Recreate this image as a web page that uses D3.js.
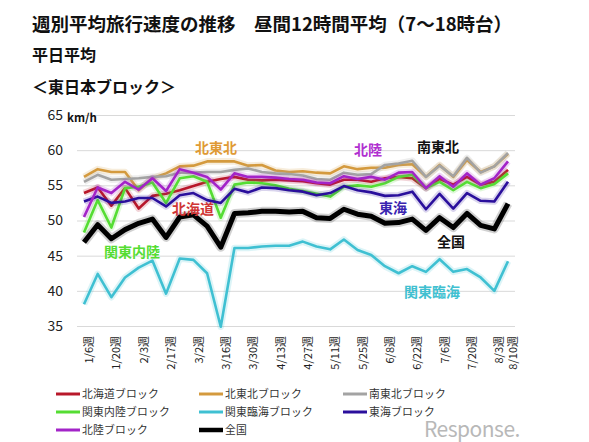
<!DOCTYPE html>
<html><head><meta charset="utf-8">
<script src="https://cdn.jsdelivr.net/npm/d3@7"></script>
<style>body{margin:0;background:#fff} text{font-family:"Noto Sans CJK JP","Noto Sans",sans-serif}</style>
</head><body><svg id="c" width="589" height="442"></svg>
<script>
const weeks = ["1/6","1/13","1/20","1/27","2/3","2/10","2/17","2/24","3/2","3/9","3/16","3/23","3/30","4/6","4/13","4/20","4/27","5/4","5/11","5/18","5/25","6/1","6/8","6/15","6/22","6/29","7/6","7/13","7/20","7/27","8/3","8/10"];
const xLabels = ["1/6","1/20","2/3","2/17","3/2","3/16","3/30","4/13","4/27","5/11","5/25","6/8","6/22","7/6","7/20","8/3","8/10"];
const yTicks = [35,40,45,50,55,60,65];
const hokkaido = [53.9,54.7,52.1,54.6,51.7,53.5,53.8,54.3,54.9,55.5,55.9,56.2,55.8,55.7,55.8,55.7,55.6,55.3,55.1,55.8,55.8,55.5,56.0,56.2,56.0,54.6,55.9,55.1,56.2,55.1,55.5,57.2];
const kitaTohoku = [56.2,57.3,56.9,56.9,54.3,56.0,56.7,57.7,57.8,58.4,58.4,58.4,57.8,57.9,57.1,56.9,57.0,56.8,56.7,57.7,57.3,57.5,57.5,57.9,58.0,56.2,57.9,56.2,58.6,56.9,57.7,59.5];
const minamiTohoku = [55.5,56.5,55.8,55.9,56.0,56.2,56.3,56.8,56.8,56.9,56.9,57.2,57.4,56.9,56.7,56.6,56.4,55.9,55.8,56.8,56.5,56.6,57.9,58.1,58.5,56.2,57.8,56.3,58.9,56.8,57.7,59.6];
const kantoNairiku = [48.3,52.9,49.0,54.6,54.8,55.4,52.5,56.0,56.3,55.5,50.4,55.1,55.4,55.3,55.0,54.5,54.2,53.8,53.4,54.8,55.0,54.8,55.3,56.2,56.5,54.6,55.5,54.3,55.5,54.6,55.2,56.7];
const kantoRinkai = [38.1,42.4,39.1,41.9,43.3,44.3,39.6,44.6,44.4,42.5,34.9,46.1,46.1,46.3,46.4,46.4,47.0,46.3,45.9,47.3,45.8,45.1,43.5,42.5,43.5,42.7,44.5,42.7,43.1,41.9,40.0,44.2];
const tokai = [52.7,53.4,52.5,52.7,53.2,53.2,52.0,53.6,53.9,52.9,52.5,54.5,54.0,54.7,54.6,54.3,54.1,53.6,53.9,54.9,54.3,54.0,53.5,53.6,54.1,51.6,53.8,51.7,53.9,52.8,52.7,55.5];
const hokuriku = [50.5,54.7,53.9,55.5,54.4,56.0,54.2,57.3,56.8,56.2,54.4,56.7,56.2,56.2,56.1,55.9,55.8,55.4,55.3,56.3,55.9,56.2,55.8,56.8,56.9,54.6,56.3,54.8,56.7,55.1,56.0,58.4];
const zenkoku = [46.9,49.4,47.4,48.7,49.6,50.2,47.6,50.5,50.8,49.2,46.2,51.0,51.1,51.3,51.3,51.2,51.3,50.4,50.3,51.6,50.9,50.6,49.6,49.7,50.2,48.6,50.4,49.0,51.0,49.3,48.8,52.4];

const seriesNames = ["北海道ブロック","北東北ブロック","南東北ブロック","関東内陸ブロック","関東臨海ブロック","東海ブロック","北陸ブロック","全国"];
const seriesValues = [hokkaido,kitaTohoku,minamiTohoku,kantoNairiku,kantoRinkai,tokai,hokuriku,zenkoku];
const seriesColors = ["#b8182a","#d49a3e","#a3a3a3","#55dd33","#3fc0d2","#2a0f9c","#a324c8","#000000"];

const svg = d3.select("#c");
svg.append("rect").attr("width",589).attr("height",442).attr("fill","#fff");

const x = d3.scalePoint().domain(weeks).range([84,508]);
const y = d3.scaleLinear().domain([35,65]).range([326,115]);

// titles
svg.append("text").attr("x",32).attr("y",31).attr("font-size",18.5).attr("font-weight","bold").attr("fill","#111")
  .text("週別平均旅行速度の推移　昼間12時間平均（7〜18時台）");
svg.append("text").attr("x",32).attr("y",61).attr("font-size",16).attr("font-weight","bold").attr("fill","#111").text("平日平均");
svg.append("text").attr("x",32).attr("y",93).attr("font-size",16).attr("font-weight","bold").attr("fill","#111").text("＜東日本ブロック＞");

// y axis with gridlines
const ya = svg.append("g").attr("transform","translate(77,0)")
  .call(d3.axisLeft(y).tickValues(yTicks).tickSize(-438).tickPadding(14));
ya.select(".domain").remove();
ya.selectAll(".tick line").attr("stroke","#d9d9d9");
ya.selectAll(".tick text").attr("font-size",14).attr("fill","#222").attr("font-family","'Open Sans','Noto Sans',sans-serif");
svg.append("text").attr("x",67).attr("y",122).attr("font-size",11.5).attr("font-weight","bold").attr("fill","#111").text("km/h");

// x axis labels
const xa = svg.append("g").attr("transform","translate(0,326)")
  .call(d3.axisBottom(x).tickValues(xLabels).tickSize(0).tickFormat(d=>d+"週"));
xa.select(".domain").remove();
xa.selectAll(".tick text").attr("transform","rotate(-90)").attr("x",-10).attr("y",0).attr("dy","0.78em")
  .attr("text-anchor","end").attr("font-size",11).attr("fill","#222");

// lines
const line = d3.line().x((d,i)=>x(weeks[i])).y(d=>y(d));
seriesValues.forEach((vals,k)=>{
  const w = k===7 ? 5 : 2.6;
  svg.append("path").datum(vals).attr("d",line).attr("fill","none")
    .attr("stroke",seriesColors[k]).attr("stroke-opacity",0.18).attr("stroke-width",w+4).attr("stroke-linejoin","round");
  svg.append("path").datum(vals).attr("d",line).attr("fill","none")
    .attr("stroke",seriesColors[k]).attr("stroke-width",w).attr("stroke-linejoin","round");
});

// annotations
const ann = [["北東北",216,153,"#e09a35"],["北陸",368,155,"#b030d0"],["南東北",438,152,"#111"],["北海道",193,214,"#d03535"],
             ["東海",393,213,"#3a25b0"],["全国",451,247,"#111"],["関東内陸",132,257,"#55dd33"],["関東臨海",432,297,"#40c0d0"]];
ann.forEach(a=>svg.append("text").attr("x",a[1]).attr("y",a[2]).attr("text-anchor","middle").attr("font-size",14)
  .attr("font-weight","bold").attr("fill",a[3]).text(a[0]));

// legend
const lg = svg.append("g");
seriesNames.forEach((n,k)=>{
  const col = k%3, row = Math.floor(k/3);
  const lx = [56,199,343][col], ly = 394 + row*18;
  lg.append("line").attr("x1",lx).attr("x2",lx+24).attr("y1",ly).attr("y2",ly)
    .attr("stroke",seriesColors[k]).attr("stroke-width",k===7?4.5:3);
  lg.append("text").attr("x",lx+26).attr("y",ly+4).attr("font-size",10.8).attr("letter-spacing","0.2px").attr("fill","#333").text(n);
});

// watermark
svg.append("text").attr("x",424).attr("y",437).attr("font-size",21).attr("fill","#b8b8b8")
  .attr("font-family","'DejaVu Sans','Liberation Sans',sans-serif").attr("letter-spacing","-0.5px").text("Response.");
</script></body></html>
